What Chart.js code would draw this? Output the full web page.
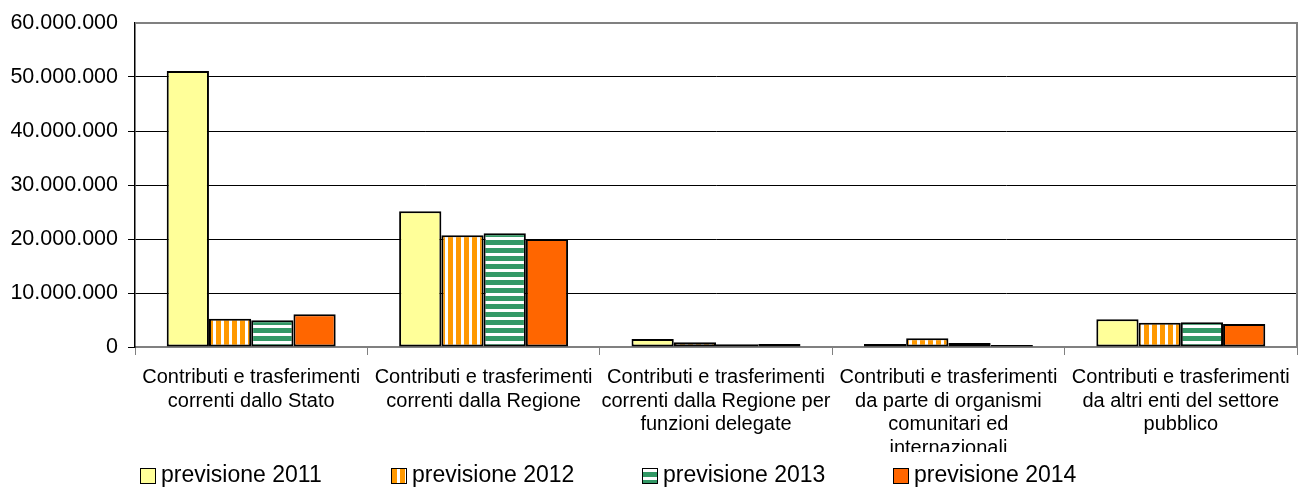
<!DOCTYPE html>
<html>
<head>
<meta charset="utf-8">
<script src="https://cdn.jsdelivr.net/npm/chart.js@4.4.1/dist/chart.umd.min.js"></script>
<style>
  html, body { margin: 0; padding: 0; background: #fff; }
  #wrap { width: 1302px; height: 487px; }
</style>
</head>
<body>
<div id="wrap"><canvas id="c" width="1302" height="487"></canvas></div>
<script>
// categories (multi-line labels, as wrapped in the original)
const categories = [
  ['Contributi e trasferimenti', 'correnti dallo Stato'],
  ['Contributi e trasferimenti', 'correnti dalla Regione'],
  ['Contributi e trasferimenti', 'correnti dalla Regione per', 'funzioni delegate'],
  ['Contributi e trasferimenti', 'da parte di organismi', 'comunitari ed', 'internazionali'],
  ['Contributi e trasferimenti', 'da altri enti del settore', 'pubblico']
];
const seriesLabels = ['previsione 2011', 'previsione 2012', 'previsione 2013', 'previsione 2014'];

const prev2011 = [51100000, 25150000, 1480000, 550000, 5130000];
const prev2012 = [5250000, 20700000, 870000, 1600000, 4500000];
const prev2013 = [4950000, 21050000, 500000, 740000, 4570000];
const prev2014 = [6050000, 20000000, 550000, 370000, 4260000];

const yMin = 0, yMax = 60000000, yStep = 10000000;

const canvas = document.getElementById('c');
const ctx = canvas.getContext('2d');

// striped fills like the old excel patterns
function stripes(color, vertical) {
  const p = document.createElement('canvas');
  p.width = p.height = 8;
  const g = p.getContext('2d');
  g.fillStyle = '#fff';
  g.fillRect(0, 0, 8, 8);
  g.fillStyle = color;
  if (vertical) g.fillRect(0, 0, 5, 8); else g.fillRect(0, 0, 8, 5);
  return ctx.createPattern(p, 'repeat');
}

const fills = ['#FFFF99', stripes('#FF9900', true), stripes('#339966', false), '#FF6600'];
const values = [prev2011, prev2012, prev2013, prev2014];

const FONT = '"Liberation Sans", Arial, sans-serif';
Chart.defaults.font.family = FONT;
Chart.defaults.color = '#000';

const dots = v => String(v).replace(/\B(?=(\d{3})+(?!\d))/g, '.');

// excel clips the last wrapped line of the 4th label
const clipLabels = {
  id: 'clipLabels',
  beforeDraw(chart) {
    const sc = chart.scales.x;
    if (sc._clipped) return;
    const orig = sc.drawLabels;
    sc.drawLabels = function (area) {
      const c = this.ctx;
      c.save();
      c.beginPath();
      c.rect(0, 0, chart.width, 452);
      c.clip();
      orig.call(this, area);
      c.restore();
    };
    sc._clipped = true;
  }
};

const frame = {
  id: 'frame',
  afterDraw(chart) {
    const { ctx: c, chartArea: a } = chart;
    c.save();
    c.strokeStyle = '#808080';
    c.lineWidth = 2;
    c.beginPath();
    c.moveTo(a.left, a.top);
    c.lineTo(a.right, a.top);
    c.lineTo(a.right, a.bottom);
    c.stroke();
    c.restore();
  }
};

const bottomLegend = {
  id: 'bottomLegend',
  afterDraw(chart) {
    const c = chart.ctx;
    const step = 251, x0 = chart.chartArea.left + 5, yc = 475;
    c.save();
    c.font = '23px ' + FONT;
    c.textBaseline = 'middle';
    chart.data.datasets.forEach((ds, i) => {
      const x = x0 + i * step;
      c.fillStyle = ds.backgroundColor;
      c.fillRect(x, yc - 7, 15, 15);
      c.strokeStyle = '#000';
      c.lineWidth = 1;
      c.strokeRect(x + 0.5, yc - 6.5, 15, 15);
      c.fillStyle = '#000';
      c.fillText(ds.label, x + 21, yc + 1);
    });
    c.restore();
  }
};

new Chart(ctx, {
  type: 'bar',
  data: {
    labels: categories,
    datasets: seriesLabels.map((lab, i) => ({
      label: lab,
      data: values[i],
      backgroundColor: fills[i],
      borderColor: '#000',
      borderWidth: 2,
      borderSkipped: false,
      categoryPercentage: 0.727,
      barPercentage: 1
    }))
  },
  options: {
    responsive: false,
    animation: false,
    events: [],
    layout: { padding: { top: 23, right: 5, bottom: 30, left: 0 } },
    plugins: { legend: { display: false }, tooltip: { enabled: false } },
    scales: {
      x: {
        afterFit(s) { s.height = 110; },
        grid: { drawOnChartArea: false, tickLength: 8, color: '#808080', offset: true },
        border: { color: '#808080', width: 2 },
        ticks: {
          autoSkip: false, maxRotation: 0, minRotation: 0, padding: 11,
          font: { size: 20, lineHeight: 1.175 }, color: '#000'
        }
      },
      y: {
        min: yMin, max: yMax,
        afterFit(s) { s.width = 135; },
        grid: {
          color: c => c.tick && c.tick.value === yMax ? 'rgba(0,0,0,0)' : '#000',
          tickLength: 7, lineWidth: 1
        },
        border: { color: '#000', width: 1.5 },
        ticks: { stepSize: yStep, padding: 10, font: { size: 21.5 }, color: '#000', callback: v => dots(v) }
      }
    }
  },
  plugins: [clipLabels, frame, bottomLegend]
});
</script>
</body>
</html>
